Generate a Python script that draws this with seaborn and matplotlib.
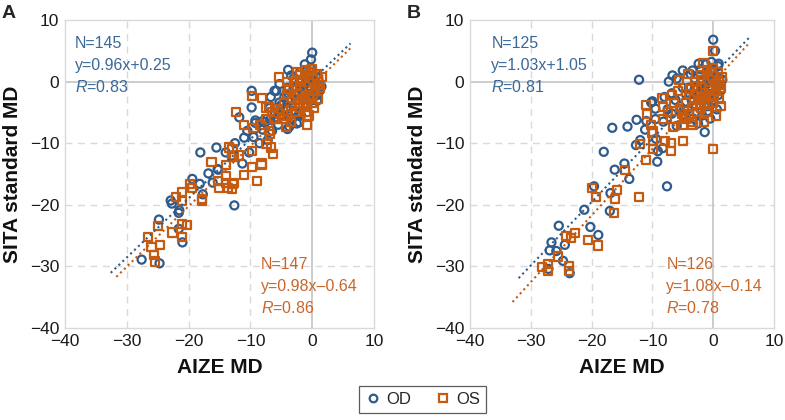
import matplotlib
matplotlib.use("Agg")
import numpy as np
import pandas as pd
import seaborn as sns
import matplotlib.pyplot as plt
from matplotlib.lines import Line2D

# ---------------- data ----------------
a_od_x = [0.0, -0.2, -3.9, -9.8, -9.8, -11.8, -7.6, -9.2, -5.8, -2.1, -18.1, -15.5, -11.0, -10.2, -19.4,
          -16.8, -15.3, -18.2, -11.3, -4.0, -2.9, -22.7, -21.6, -12.6, -24.8, -21.6, -21.0, -27.6, -24.7,
          -22.9, -21.5, -17.7, -16.1, -15.2, -9.2, -8.0, -6.1, -5.3, -5.3, -2.1, -3.7, 0.8, -6.7, -6.9, -5.6,
          -3.0, -2.0, -1.0, 0.0, 1.0, 0.5, -0.5, -1.5, -2.5, -3.5, -4.5, -1.0, 0.0, 1.2, -2.0, -3.0, -4.0,
          -0.8, 0.3, -1.7, -2.8, -4.8, -3.3, -5.5, -6.5, -7.2, -8.5, -9.5, -12.5, -13.0, -14.0, -10.5, 0.8,
          -0.3, -1.2, -2.2, 0.2, 1.5, -0.6, -3.8, -5.0, -6.0, -4.2, -1.8, -2.5, -8.0, -6.8, -1.2, 0.8, -3.4]
a_od_y = [4.7, 3.6, 1.9, -1.5, -4.2, -5.8, -6.6, -6.7, -1.5, -6.6, -11.5, -10.7, -9.1, -11.5, -15.8,
          -14.9, -14.2, -16.6, -13.3, -7.7, -4.7, -19.8, -21.3, -20.1, -22.4, -23.9, -26.1, -28.9, -29.5,
          -19.3, -20.9, -18.3, -16.4, -14.3, -6.3, -6.4, -1.5, -0.4, -3.4, -5.2, -7.3, -3.1, -2.5, -4.3, -4.3,
          -1.0, 0.2, 1.0, 1.5, 0.5, -1.0, -2.0, -3.0, -2.0, -3.0, -2.5, -4.0, -3.0, -1.5, 1.5, 0.5, -1.0,
          0.3, -0.5, -1.2, -4.0, -5.5, -6.0, -7.0, -8.0, -9.5, -10.0, -9.0, -10.0, -12.0, -11.5, -8.0, 1.2,
          2.2, -0.5, -1.8, 0.2, -0.8, -1.2, -2.0, -3.8, -5.2, -4.5, -5.5, -6.8, -7.8, -6.2, 2.8, -2.2, 1.0]

a_os_x = [-5.3, -2.4, -9.8, -8.1, -12.3, -11.0, -7.4, -5.8, -4.2, -0.8, 0.3, -13.4, -12.9, -11.8, -9.7,
          -8.2, -6.6, -6.4, -7.4, -6.9, -16.3, -13.9, -11.0, -8.9, -15.3, -13.9, -12.9, -15.0, -13.0, -19.8,
          -21.0, -22.0, -25.0, -21.1, -20.2, -22.6, -26.6, -21.0, -26.0, -24.7, -25.6, -25.5, -17.9, -21.1,
          -19.4, -17.9, -14.0, -13.7, -12.7, -8.2, -9.7, -12.6, -12.9, -4.0, -7.0, -0.6, -0.8,
          -3.0, -2.0, -1.0, 0.0, 1.0, 0.5, -0.5, -1.5, -2.5, -3.5, -4.5, -1.0, 0.0, 1.3, -2.0, -3.0, -4.0,
          -0.7, 0.4, -1.6, -2.7, -4.5, -3.5, -5.5, 0.8, -0.3, -1.3, -2.2, 0.2, 1.5, -0.8, -3.8, -5.2, -6.2,
          -4.0, -2.0, 0.9, -1.0, 0.0, -1.8, -2.6, -0.4, 1.0, -3.2, -4.8, -6.5, -7.5, -8.5, -9.5, -7.0]
a_os_y = [0.7, 1.6, -2.3, -2.6, -5.0, -7.1, -4.2, -6.0, -7.4, -5.5, -4.2, -10.7, -12.3, -12.0, -11.2,
          -13.3, -10.7, -11.7, -10.1, -8.5, -13.0, -13.6, -15.1, -16.1, -16.1, -16.4, -16.6, -17.2, -17.4, -16.6,
          -18.0, -18.8, -23.5, -23.1, -23.3, -24.5, -25.3, -25.2, -26.8, -26.5, -28.1, -29.2, -19.3, -19.3,
          -17.2, -19.0, -15.3, -17.2, -16.4, -13.5, -13.8, -12.3, -11.0, -0.1, -4.1, -5.5, -7.0,
          -2.0, -1.0, 0.0, 0.5, 0.0, -1.5, -2.5, -3.5, -3.0, -4.0, -3.5, -5.0, -3.5, -1.0, 1.0, 0.0, -2.0,
          -0.8, -0.3, -1.8, -5.0, -6.0, -6.5, -4.5, 1.2, 1.5, -2.7, -2.3, -2.2, 0.8, -3.8, -1.2, -5.2, -6.0,
          -5.5, -4.2, -2.8, 1.8, 2.0, 0.3, -0.8, 0.8, -0.6, -2.8, -4.8, -5.0, -6.0, -7.0, -7.5, -8.0]

b_od_x = [0.0, 0.3, -12.2, -2.4, -5.0, -6.7, -7.3, -6.8, -10.0, -9.5, -12.6, -14.1, -16.6, -11.0, -11.2,
          -12.0, -12.7, -18.0, -9.4, -8.3, -9.1, -9.2, -14.6, -16.2, -13.8, -7.6, -19.6, -16.9, -1.4, -1.0,
          -17.0, -21.2, -25.4, -20.2, -18.9, -26.6, -24.4, -26.9, -25.8, -24.7, -27.1, -23.6, -10.2, -9.5,
          -3.7, 0.9,
          -3.0, -2.0, -1.0, 0.0, 1.0, 0.5, -0.5, -1.5, -2.5, -3.5, -4.5, -1.0, 0.0, 1.2, -2.0, -3.0, -4.0,
          -0.8, 0.3, -1.7, -2.8, -4.8, -3.3, -5.5, -6.2, -7.5, -8.2, -6.0, 0.8, -0.3, -1.2, -2.2, 0.2, 1.5,
          -0.6, -3.8, -5.0, -6.0, -4.2, -1.8, -2.5, -8.0, -6.8, -1.2, 0.8, -3.4, -0.5, 0.6]
b_od_y = [6.8, 5.0, 0.3, 2.9, 1.8, 1.0, 0.0, -1.9, -3.2, -6.1, -6.2, -7.3, -7.5, -6.4, -7.8,
          -9.5, -10.3, -11.4, -9.3, -10.8, -11.3, -13.0, -13.3, -14.3, -15.8, -17.0, -17.0, -18.1, -8.2, -5.0,
          -21.0, -20.8, -23.4, -23.6, -24.9, -26.1, -26.5, -27.4, -27.5, -29.1, -30.4, -31.1, -3.4, -4.4,
          1.2, 2.9,
          -1.0, 0.0, 1.0, 1.5, 0.5, -1.0, -2.0, -3.0, -2.0, -3.0, -2.0, -4.0, -3.0, -1.5, 2.0, 0.5, -1.0,
          0.3, -0.5, -1.2, -4.0, -5.5, -6.0, -4.0, -3.0, -4.5, -6.5, -7.2, 2.5, 3.2, -0.5, -1.8, 0.2, 0.3,
          -1.2, -2.0, -1.0, 0.5, -4.5, -5.5, -6.8, -2.5, -5.2, 2.8, -2.2, 1.8, -6.0, -4.5]

b_os_x = [0.0, -1.6, -5.6, -4.1, -8.4, -8.2, -11.0, -10.9, -8.3, -6.6, -4.9, -3.4, -9.9, -9.9, -12.0,
          -7.9, -6.9, -4.9, -9.9, -7.0, 0.0, -11.0, -14.5, -20.0, -15.8, -19.3, -12.2, -10.0, -10.2, -16.2,
          -16.3, -24.2, -23.4, -22.8, -20.6, -19.0, -25.5, -27.1, -28.1, -27.2, -23.7, -23.7,
          -3.0, -2.0, -1.0, 0.0, 1.0, 0.5, -0.5, -1.5, -2.5, -3.5, -4.5, -1.0, 0.0, 1.3, -2.0, -3.0, -4.0,
          -0.7, 0.4, -1.6, -2.7, -4.5, -3.5, -5.5, 0.8, -0.3, -1.3, -2.2, 0.2, 1.5, -0.8, -3.8, -5.2, -6.2,
          -4.0, -2.0, 0.9, -1.0, 0.0, -1.8, -2.6, -0.4, 1.0, -3.2, -4.8, -6.5, -7.5, -5.8, -6.8, 0.5, -1.5, 1.2]
b_os_y = [5.0, 3.0, 0.3, 1.2, -2.6, -4.1, -3.8, -5.2, -6.1, -7.3, -7.1, -7.1, -8.1, -9.6, -10.1,
          -9.6, -9.9, -9.7, -10.9, -11.2, -11.0, -12.7, -14.4, -17.3, -17.6, -18.8, -18.8, -8.4, -7.1, -19.0,
          -21.4, -25.0, -25.4, -24.6, -25.7, -26.6, -28.4, -29.6, -30.1, -30.8, -30.0, -30.7,
          -2.0, -1.0, 0.0, 0.5, 0.0, -1.5, -2.5, -3.5, -3.0, -4.0, -3.5, -5.0, -3.5, -1.0, 1.0, 0.0, -2.0,
          -0.8, -0.3, -1.8, -5.0, -6.0, -6.5, -4.5, 1.5, 1.5, -2.7, -2.3, -2.2, 0.8, -3.8, -1.2, -5.2, -6.0,
          -5.5, -4.2, -2.8, 1.8, 2.2, 0.3, -0.8, 0.8, -0.6, -2.8, -4.8, -3.5, -5.0, -1.5, -2.2, -5.5, -6.5, -4.0]

# regression fits (slope, intercept, x start, x end) and annotations
a_od_fit = (0.96, 0.25, -32.6, 6.2)
a_os_fit = (0.98, -0.64, -31.7, 6.4)
b_od_fit = (1.03, 1.05, -32.0, 5.9)
b_os_fit = (1.08, -0.14, -33.0, 6.0)
a_od_text = ["N=145", "y=0.96x+0.25", "0.83"]
a_os_text = ["N=147", "y=0.98x\u20130.64", "0.86"]
b_od_text = ["N=125", "y=1.03x+1.05", "0.81"]
b_os_text = ["N=126", "y=1.08x\u20130.14", "0.78"]
series_names = ["OD", "OS"]
ticks = [-40, -30, -20, -10, 0, 10]

# ---------------- style ----------------
sns.set_theme(style="white")
plt.rcParams["font.family"] = ["Liberation Sans", "DejaVu Sans"]
plt.rcParams["mathtext.fontset"] = "custom"
plt.rcParams["mathtext.it"] = "Liberation Sans:italic"
plt.rcParams["mathtext.rm"] = "Liberation Sans"
plt.rcParams["axes.unicode_minus"] = True

BLUE = "#2f5b8c"
BLUE_T = "#3a6898"
ORANGE = "#c55a11"
ORANGE_T = "#c8662a"
GRID = "#d9d9d9"
ZERO = "#c4c4c4"

fig = plt.figure(figsize=(7.85, 4.2), dpi=100)
axA = fig.add_axes([65 / 785, 1 - 328 / 420, 309 / 785, 308 / 420])
axB = fig.add_axes([470 / 785, 1 - 328 / 420, 304 / 785, 308 / 420])


def panel(ax, odx, ody, osx, osy, odfit, osfit, odtxt, ostxt, od_tx, os_tx):
    for v in ticks[1:-1]:
        if v == 0:
            ax.axvline(0, color=ZERO, lw=1.2, zorder=0)
            ax.axhline(0, color=ZERO, lw=1.2, zorder=0)
        else:
            ax.axvline(v, color=GRID, lw=1.0, ls=(0, (5, 4)), zorder=0)
            ax.axhline(v, color=GRID, lw=1.0, ls=(0, (5, 4)), zorder=0)

    sns.scatterplot(x=odx, y=ody, ax=ax, marker="o", s=34, color=BLUE, facecolor="none",
                    edgecolor=BLUE, linewidth=1.6, zorder=3, legend=False)
    sns.scatterplot(x=osx, y=osy, ax=ax, marker="s", s=34, color=ORANGE, facecolor="none",
                    edgecolor=ORANGE, linewidth=1.6, zorder=4, legend=False)

    for fit, col in ((odfit, BLUE), (osfit, ORANGE)):
        m, b, x0, x1 = fit
        xs = np.array([x0, x1])
        sns.lineplot(x=xs, y=m * xs + b, ax=ax, color=col, lw=1.5,
                     linestyle=(0, (1, 1.6)), zorder=5)

    for txt, (tx, ty), col in ((odtxt, od_tx, BLUE_T), (ostxt, os_tx, ORANGE_T)):
        ax.text(tx, ty, txt[0], color=col, fontsize=11.5, va="center", ha="left", zorder=6)
        ax.text(tx, ty - 3.55, txt[1], color=col, fontsize=11.5, va="center", ha="left", zorder=6)
        ax.text(tx, ty - 7.1, r"$\mathit{R}$=" + txt[2], color=col, fontsize=11.5,
                va="center", ha="left", zorder=6)

    ax.set_xlim(-40, 10)
    ax.set_ylim(-40, 10)
    ax.set_xticks(ticks)
    ax.set_yticks(ticks)
    ax.tick_params(length=0, labelsize=12.5, pad=4, colors="#1a1a1a")
    for sp in ax.spines.values():
        sp.set_color(GRID)
        sp.set_linewidth(1.0)
    ax.set_xlabel("AIZE MD", fontsize=15, fontweight="bold", labelpad=7, color="#111111")
    ax.set_ylabel("SITA standard MD", fontsize=15, fontweight="bold", labelpad=6, color="#111111")


panel(axA, a_od_x, a_od_y, a_os_x, a_os_y, a_od_fit, a_os_fit, a_od_text, a_os_text,
      (-38.4, 6.2), (-8.3, -29.7))
panel(axB, b_od_x, b_od_y, b_os_x, b_os_y, b_od_fit, b_os_fit, b_od_text, b_os_text,
      (-36.5, 6.2), (-7.7, -29.7))

fig.text(0.002, 1 - 18 / 420, "A", fontsize=14, fontweight="bold", va="baseline", ha="left")
fig.text(407 / 785, 1 - 18 / 420, "B", fontsize=14, fontweight="bold", va="baseline", ha="left")

handles = [
    Line2D([], [], marker="o", ls="none", markersize=5.5, markerfacecolor="none",
           markeredgecolor=BLUE, markeredgewidth=1.6),
    Line2D([], [], marker="s", ls="none", markersize=5.2, markerfacecolor="none",
           markeredgecolor=ORANGE, markeredgewidth=1.6),
]
leg = fig.legend(handles, series_names, loc="center", bbox_to_anchor=(422.5 / 785, 1 - 399.5 / 420),
                 ncol=2, frameon=True, fancybox=False, edgecolor="#333333", fontsize=12,
                 handletextpad=0.3, columnspacing=1.4, handlelength=1.0, borderpad=0.35)
leg.get_frame().set_linewidth(0.9)

fig.savefig("out.png", dpi=100)
